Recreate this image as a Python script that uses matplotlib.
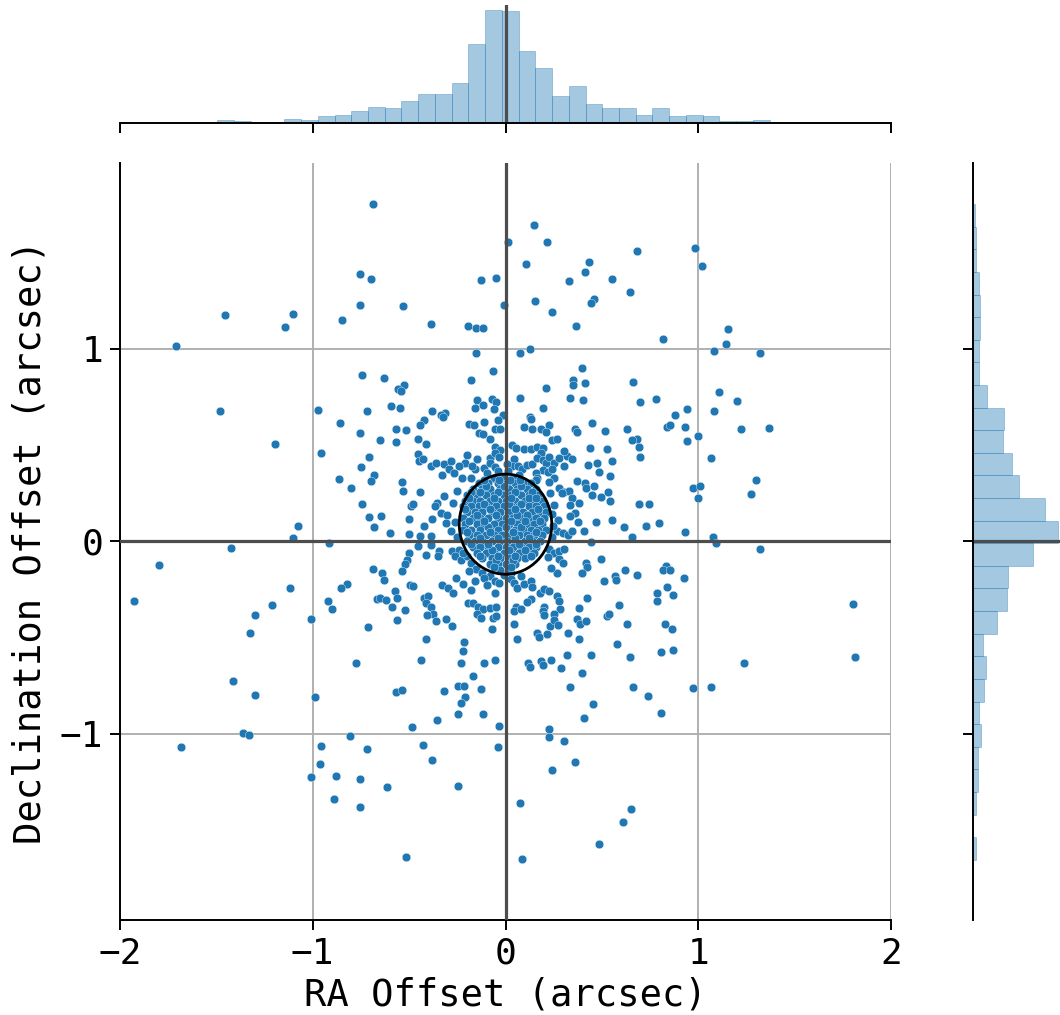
import numpy as np
import matplotlib
matplotlib.use('Agg')
import matplotlib.pyplot as plt
from matplotlib.patches import Ellipse

# Offsets (arcsec), grouped by region of the plot
pts_nw = [(-0.689, 1.751), (-0.754, 1.389), (-0.696, 1.359), (-0.754, 1.228), (-0.849, 1.150),
          (-1.102, 1.181), (-1.144, 1.114), (-1.457, 1.172), (-1.709, 1.011), (-0.744, 0.862),
          (-1.479, 0.674), (-0.974, 0.681), (-0.721, 0.674)]

pts_n = [(0.147, 1.640), (0.012, 1.555), (0.214, 1.553), (0.107, 1.437), (0.435, 1.448),
         (0.411, 1.397), (0.332, 1.349), (0.550, 1.361), (-0.125, 1.358), (-0.051, 1.366),
         (0.648, 1.294), (0.153, 1.247), (0.460, 1.255), (0.442, 1.236), (-0.532, 1.219),
         (-0.009, 1.224), (0.240, 1.188), (-0.385, 1.127), (-0.196, 1.115), (-0.155, 1.107),
         (-0.115, 1.107), (0.366, 1.119), (0.129, 0.998), (0.074, 0.975), (-0.153, 0.978),
         (0.399, 0.901), (-0.629, 0.849), (-0.065, 0.885), (0.349, 0.838), (0.351, 0.812),
         (0.415, 0.821), (0.662, 0.824), (-0.528, 0.810), (-0.559, 0.788), (-0.542, 0.781),
         (-0.177, 0.835), (0.210, 0.795), (-0.592, 0.701), (-0.547, 0.691), (-0.381, 0.674),
         (-0.312, 0.663), (-0.333, 0.653), (-0.149, 0.731), (-0.160, 0.694), (-0.115, 0.705),
         (-0.072, 0.739), (-0.047, 0.720), (-0.058, 0.687), (-0.013, 0.653), (0.074, 0.741),
         (0.128, 0.644), (0.195, 0.694), (0.333, 0.743), (0.401, 0.734)]

pts_ne = [(0.684, 1.505), (0.982, 1.524), (1.021, 1.429), (1.156, 1.103), (0.819, 1.051),
          (1.146, 1.025), (1.080, 0.985), (1.319, 0.978), (1.110, 0.773), (0.698, 0.724),
          (0.783, 0.736), (1.201, 0.727), (0.881, 0.656), (0.943, 0.686), (1.084, 0.674)]

pts_w = [(-0.858, 0.611), (-0.753, 0.564), (-1.196, 0.506), (-0.957, 0.457), (-0.706, 0.436),
         (-0.751, 0.386), (-0.682, 0.341), (-0.699, 0.313), (-0.863, 0.322), (-0.799, 0.275),
         (-0.742, 0.194), (-0.709, 0.126), (-0.682, 0.071), (-1.076, 0.081), (-1.102, 0.017),
         (-0.917, -0.010), (-1.426, -0.034), (-1.798, -0.123), (-1.929, -0.313), (-0.690, -0.144),
         (-1.118, -0.244), (-0.820, -0.225), (-0.853, -0.246), (-0.922, -0.312), (-0.901, -0.351),
         (-0.668, -0.299), (-1.213, -0.334), (-1.299, -0.386), (-1.010, -0.403), (-1.325, -0.478),
         (-0.715, -0.448), (-0.777, -0.634)]

pts_e = [(0.836, 0.594), (0.852, 0.601), (0.930, 0.592), (0.999, 0.545), (0.942, 0.521),
         (1.220, 0.584), (1.367, 0.587), (0.681, 0.528), (0.693, 0.488), (0.698, 0.438),
         (1.065, 0.431), (1.300, 0.317), (1.274, 0.246), (0.975, 0.275), (1.008, 0.286),
         (1.001, 0.222), (0.691, 0.192), (0.743, 0.194), (0.727, 0.076), (0.796, 0.092),
         (0.930, 0.047), (1.078, 0.021), (1.092, -0.008), (1.321, -0.041), (0.681, -0.178),
         (0.834, -0.131), (0.819, -0.150), (0.855, -0.150), (0.926, -0.192), (0.836, -0.237),
         (0.788, -0.272), (0.869, -0.279), (0.788, -0.312), (1.802, -0.329), (0.826, -0.431),
         (0.862, -0.457), (0.809, -0.575), (0.867, -0.564), (1.239, -0.634), (1.812, -0.601)]

pts_sw = [(-1.412, -0.724), (-1.298, -0.798), (-0.988, -0.812), (-1.360, -0.999), (-1.330, -1.008),
          (-1.683, -1.068), (-0.806, -1.011), (-0.958, -1.063), (-0.720, -1.079), (-0.964, -1.157),
          (-1.010, -1.224), (-0.879, -1.221), (-0.754, -1.236), (-0.891, -1.339), (-0.754, -1.382)]

pts_s = [(0.397, -0.684), (-0.566, -0.783), (-0.539, -0.774), (-0.319, -0.777), (-0.248, -0.753),
         (-0.213, -0.755), (-0.170, -0.701), (-0.125, -0.769), (-0.208, -0.810), (-0.229, -0.840),
         (-0.245, -0.897), (-0.115, -0.897), (-0.354, -0.930), (-0.487, -0.964), (-0.033, -0.961),
         (0.337, -0.760), (0.453, -0.845), (0.408, -0.921), (0.659, -0.758), (0.224, -0.978),
         (0.228, -1.016), (0.304, -1.039), (-0.428, -1.060), (-0.040, -1.072), (-0.379, -1.136),
         (0.361, -1.148), (0.243, -1.191), (-0.615, -1.276), (-0.245, -1.274), (0.076, -1.359),
         (0.650, -1.389), (0.612, -1.458), (0.487, -1.574), (-0.516, -1.640), (0.088, -1.650),
         (0.290, -0.660)]

pts_se = [(0.741, -0.802), (0.809, -0.894), (0.971, -0.762), (1.068, -0.758)]

pts_mid = [(-0.424, 0.629), (-0.441, 0.604), (-0.325, 0.644), (-0.566, 0.580), (-0.516, 0.575),
           (-0.649, 0.525), (-0.567, 0.516), (-0.455, 0.533), (-0.412, 0.502), (-0.189, 0.606),
           (-0.161, 0.601), (-0.109, 0.618), (-0.138, 0.559), (-0.116, 0.554), (-0.057, 0.580),
           (-0.026, 0.584), (-0.040, 0.629), (-0.078, 0.532), (0.130, 0.636), (0.095, 0.592),
           (0.138, 0.584), (0.185, 0.584), (0.225, 0.601), (0.208, 0.566), (0.239, 0.525),
           (0.268, 0.532), (0.363, 0.584), (0.372, 0.568), (0.450, 0.615), (0.516, 0.572),
           (0.632, 0.584), (0.657, 0.525), (0.036, 0.497), (0.057, 0.485), (0.095, 0.476),
           (0.133, 0.476), (0.161, 0.490), (0.194, 0.483), (0.182, 0.456), (-0.052, 0.490),
           (-0.029, 0.473),
           (-0.455, 0.450), (-0.450, 0.416), (-0.429, 0.424), (-0.386, 0.390), (-0.358, 0.407),
           (-0.320, 0.398), (-0.199, 0.445), (-0.208, 0.407), (-0.242, 0.390), (-0.282, 0.416),
           (-0.294, 0.372), (-0.329, 0.341), (-0.265, 0.355), (-0.156, 0.372), (-0.109, 0.381),
           (-0.081, 0.433), (-0.057, 0.459), (-0.033, 0.438), (-0.078, 0.404), (-0.057, 0.386),
           (-0.040, 0.364), (-0.022, 0.334), (0.043, 0.424), (0.035, 0.390), (0.064, 0.390),
           (0.088, 0.372), (0.112, 0.393), (0.140, 0.398), (0.166, 0.433), (0.192, 0.421),
           (0.211, 0.404), (0.227, 0.438), (0.251, 0.407), (0.279, 0.431), (0.303, 0.390),
           (0.320, 0.442), (0.344, 0.428), (0.306, 0.468), (0.192, 0.369), (0.220, 0.359),
           (0.242, 0.372), (0.251, 0.327), (0.225, 0.308), (0.280, 0.277), (0.303, 0.255),
           (0.332, 0.258), (0.372, 0.312), (0.427, 0.393), (0.484, 0.359), (0.476, 0.407),
           (0.555, 0.414), (0.528, 0.476), (0.438, 0.485), (0.542, 0.338), (-0.536, 0.307),
           (-0.531, 0.258), (-0.441, 0.255),
           (0.010, 0.400), (0.012, 0.364), (0.069, 0.346), (-0.095, 0.355), (-0.147, 0.424),
           (-0.173, 0.390), (-0.225, 0.329), (0.156, 0.355), (0.164, 0.329),
           (-0.320, 0.234), (-0.355, 0.196), (-0.368, 0.182), (-0.337, 0.144), (-0.303, 0.137),
           (-0.311, 0.095), (-0.282, 0.052), (-0.381, 0.113), (-0.424, 0.078), (-0.441, 0.026),
           (-0.502, 0.113), (-0.488, 0.182), (-0.479, 0.191), (-0.645, 0.130), (-0.597, 0.043),
           (-0.502, 0.035), (-0.389, 0.026), (0.294, 0.248), (0.346, 0.223), (0.334, 0.185),
           (0.381, 0.196), (0.363, 0.144), (0.375, 0.099), (0.337, 0.133), (0.273, 0.109),
           (0.268, 0.052), (0.296, 0.043), (0.324, 0.031), (0.346, 0.052), (0.407, 0.052),
           (0.467, 0.099), (0.554, 0.109), (0.614, 0.074), (0.657, 0.023), (0.441, -0.005),
           (0.247, 0.078), (0.242, 0.139), (0.410, 0.303), (0.420, 0.277), (0.458, 0.286),
           (0.450, 0.239), (0.493, 0.230), (0.531, 0.255), (0.540, 0.206),
           (-0.502, -0.064), (-0.510, -0.099), (-0.519, -0.121), (-0.536, -0.156), (-0.455, -0.023),
           (-0.389, -0.019), (-0.412, -0.071), (-0.346, -0.052), (-0.351, -0.078), (-0.277, -0.052),
           (-0.239, -0.047), (-0.260, -0.078), (-0.230, -0.099), (-0.202, -0.078), (-0.178, -0.116),
           (-0.154, -0.147), (-0.189, -0.156), (-0.640, -0.165), (-0.631, -0.203), (0.225, -0.043),
           (0.251, -0.064), (0.279, -0.052), (0.303, -0.040), (0.279, -0.095), (0.296, -0.116),
           (0.268, -0.165), (0.234, -0.139), (0.417, -0.113), (0.424, -0.133), (0.398, -0.168),
           (0.497, -0.095), (0.510, -0.208), (0.566, -0.182), (0.573, -0.203), (0.618, -0.151),
           (-0.078, -0.182), (-0.009, -0.178), (0.026, -0.165), (0.078, -0.182), (-0.121, -0.165),
           (-0.327, -0.230), (-0.299, -0.242), (-0.258, -0.194), (-0.272, -0.272), (-0.223, -0.225),
           (-0.178, -0.255), (-0.156, -0.208), (-0.109, -0.194), (-0.095, -0.229), (-0.052, -0.208),
           (-0.033, -0.220), (-0.052, -0.268), (-0.498, -0.230), (-0.479, -0.234), (-0.571, -0.260),
           (-0.562, -0.294), (-0.649, -0.294), (-0.619, -0.307), (-0.588, -0.341), (-0.519, -0.359),
           (-0.424, -0.298), (-0.403, -0.286), (-0.413, -0.320), (-0.386, -0.341), (-0.377, -0.376),
           (-0.363, -0.416), (0.026, -0.199), (0.043, -0.220), (0.061, -0.244), (0.095, -0.225),
           (0.130, -0.208), (0.140, -0.237), (0.178, -0.272), (0.199, -0.251), (0.225, -0.260),
           (0.268, -0.286), (0.279, -0.313), (0.285, -0.355), (0.251, -0.376), (0.130, -0.303),
           (0.109, -0.317), (0.052, -0.341), (0.043, -0.362), (0.078, -0.352), (-0.196, -0.320),
           (-0.170, -0.320), (-0.144, -0.341), (-0.116, -0.352), (-0.078, -0.346), (-0.048, -0.341),
           (-0.147, -0.381), (-0.126, -0.398), (-0.066, -0.398), (-0.050, -0.390), (0.199, -0.341),
           (0.192, -0.365), (0.199, -0.386), (0.381, -0.350), (0.424, -0.294), (0.528, -0.390),
           (0.538, -0.376), (0.588, -0.333), (0.372, -0.407), (0.389, -0.428), (0.419, -0.416),
           (-0.562, -0.410), (-0.407, -0.384), (-0.310, -0.403), (-0.275, -0.442), (-0.069, -0.454),
           (0.043, -0.428), (0.061, -0.507), (0.164, -0.476), (0.175, -0.497), (0.216, -0.485),
           (0.230, -0.442), (0.254, -0.410), (0.272, -0.436), (0.324, -0.476), (0.381, -0.507),
           (-0.415, -0.507), (-0.216, -0.523), (-0.220, -0.571), (-0.230, -0.632), (-0.438, -0.615),
           (-0.109, -0.632), (-0.052, -0.615), (0.116, -0.632), (0.126, -0.653), (0.182, -0.623),
           (0.195, -0.641), (0.234, -0.618), (0.320, -0.589), (0.441, -0.594), (0.580, -0.532),
           (0.644, -0.601), (0.628, -0.433),
           (-0.25, 0.26), (-0.27, 0.20), (-0.26, 0.10), (-0.25, 0.02), (-0.22, -0.06), (0.23, 0.25),
           (0.25, 0.19), (0.24, 0.02), (0.22, -0.08), (-0.18, 0.33), (0.16, 0.32)]

# points packed inside the ring around the centre
pts_core = [(-0.06, 0.33), (-0.01, 0.33), (0.04, 0.33),
            (-0.14, 0.30), (-0.09, 0.30), (-0.04, 0.30), (0.01, 0.30), (0.05, 0.30), (0.10, 0.30), (0.13, 0.30),
            (-0.17, 0.27), (-0.12, 0.27), (-0.08, 0.27), (-0.03, 0.27), (0.02, 0.27), (0.06, 0.27), (0.11, 0.27),
            (0.16, 0.27),
            (-0.20, 0.24), (-0.15, 0.24), (-0.10, 0.24), (-0.06, 0.24), (-0.01, 0.24), (0.03, 0.24), (0.08, 0.24),
            (0.12, 0.24), (0.17, 0.24),
            (-0.21, 0.21), (-0.17, 0.21), (-0.13, 0.21), (-0.08, 0.21), (-0.04, 0.21), (0.00, 0.21), (0.05, 0.21),
            (0.10, 0.21), (0.14, 0.21), (0.19, 0.21),
            (-0.22, 0.18), (-0.18, 0.18), (-0.14, 0.18), (-0.10, 0.18), (-0.05, 0.18), (-0.01, 0.18), (0.03, 0.18),
            (0.07, 0.18), (0.12, 0.18), (0.16, 0.18), (0.20, 0.18),
            (-0.20, 0.15), (-0.16, 0.15), (-0.12, 0.15), (-0.07, 0.15), (-0.03, 0.15), (0.02, 0.15), (0.06, 0.15),
            (0.09, 0.15), (0.14, 0.15), (0.18, 0.15), (0.21, 0.15),
            (-0.22, 0.12), (-0.17, 0.12), (-0.13, 0.12), (-0.09, 0.12), (-0.04, 0.12), (0.00, 0.12), (0.04, 0.12),
            (0.08, 0.12), (0.12, 0.12), (0.16, 0.12), (0.20, 0.12),
            (-0.21, 0.09), (-0.15, 0.09), (-0.11, 0.09), (-0.06, 0.09), (-0.02, 0.09), (0.02, 0.09), (0.06, 0.09),
            (0.11, 0.09), (0.15, 0.09), (0.19, 0.09),
            (-0.22, 0.06), (-0.18, 0.06), (-0.13, 0.06), (-0.08, 0.06), (-0.04, 0.06), (0.01, 0.06), (0.05, 0.06),
            (0.09, 0.06), (0.13, 0.06), (0.17, 0.06), (0.21, 0.06),
            (-0.19, 0.03), (-0.15, 0.03), (-0.10, 0.03), (-0.06, 0.03), (-0.02, 0.03), (0.03, 0.03), (0.07, 0.03),
            (0.11, 0.03), (0.15, 0.03), (0.19, 0.03),
            (-0.20, 0.00), (-0.16, 0.00), (-0.12, 0.00), (-0.07, 0.00), (-0.03, 0.00), (0.01, 0.00), (0.05, 0.00),
            (0.10, 0.00), (0.14, 0.00), (0.18, 0.00),
            (-0.17, -0.03), (-0.13, -0.03), (-0.09, -0.03), (-0.04, -0.03), (0.00, -0.03), (0.04, -0.03),
            (0.08, -0.03), (0.12, -0.03), (0.16, -0.03),
            (-0.15, -0.06), (-0.10, -0.06), (-0.06, -0.06), (-0.01, -0.06), (0.03, -0.06), (0.07, -0.06),
            (0.11, -0.06), (0.15, -0.06),
            (-0.12, -0.09), (-0.07, -0.09), (-0.03, -0.09), (0.02, -0.09), (0.06, -0.09), (0.10, -0.09),
            (-0.08, -0.12), (-0.04, -0.12), (0.00, -0.12), (0.05, -0.12),
            (-0.03, -0.15), (0.02, -0.15),
            (-0.10, 0.285), (-0.01, 0.285), (0.08, 0.285), (-0.11, 0.195), (0.02, 0.195), (0.08, 0.195),
            (-0.15, 0.135), (-0.05, 0.135), (0.06, 0.135), (0.11, 0.135), (-0.09, 0.075), (0.00, 0.075),
            (0.08, 0.075), (-0.13, 0.015), (-0.04, 0.015), (0.05, 0.015), (0.12, 0.015), (-0.07, -0.045),
            (0.02, -0.045), (0.10, -0.045), (-0.05, -0.10), (0.04, -0.10),
            (-0.11, 0.315), (-0.035, 0.315), (0.025, 0.315), (0.075, 0.315),
            (-0.18, 0.255), (-0.13, 0.255), (-0.04, 0.255), (0.05, 0.255), (0.14, 0.255),
            (-0.19, 0.225), (-0.06, 0.225), (0.03, 0.225), (0.12, 0.225), (0.16, 0.225),
            (-0.21, 0.165), (-0.08, 0.165), (0.05, 0.165), (0.17, 0.165),
            (-0.19, 0.105), (-0.11, 0.105), (0.03, 0.105), (0.10, 0.105), (0.18, 0.105),
            (-0.20, 0.045), (-0.08, 0.045), (0.04, 0.045), (0.16, 0.045),
            (-0.18, -0.015), (-0.09, -0.015), (0.07, -0.015), (0.16, -0.015),
            (-0.13, -0.075), (-0.04, -0.075), (0.05, -0.075), (0.13, -0.075),
            (-0.06, -0.135), (0.03, -0.135)]

# marginal histogram counts
ra_bin_range = (-1.755, 1.804)
ra_counts = [1, 0, 0, 3, 2, 1, 1, 4, 3, 6, 7, 11, 14, 13, 20, 26, 26, 36, 71, 101, 100,
             64, 49, 24, 33, 17, 13, 13, 7, 13, 6, 7, 6, 2, 2, 3, 0, 0, 0, 0, 1]
dec_bin_range = (-1.655, 1.750)
# listed from the top bin downwards
dec_counts_top_down = [2, 3, 3, 7, 8, 8, 7, 7, 17, 38, 37, 48, 57, 90, 106, 75, 43, 42, 30,
                       12, 16, 13, 7, 10, 6, 6, 3, 0, 3]

# ring drawn around the core
ring_center = (0.0, 0.088)
ring_size = (0.48, 0.52)

blue = '#1f77b4'
dark = '#4d4d4d'
plt.rcParams['font.family'] = ['DejaVu Sans Mono']

all_pts = np.array(pts_nw + pts_n + pts_ne + pts_w + pts_e + pts_sw + pts_s + pts_se
                   + pts_mid + pts_core)

W, H = 1060, 1015
fig = plt.figure(figsize=(W / 100, H / 100), dpi=100)
ax = fig.add_axes([120 / W, 95 / H, 771 / W, 757 / H])
ax_top = fig.add_axes([120 / W, 892 / H, 771 / W, 118.5 / H], sharex=ax)
ax_right = fig.add_axes([973.3 / W, 95 / H, 89 / W, 757 / H], sharey=ax)

# main scatter
ax.scatter(all_pts[:, 0], all_pts[:, 1], s=38, color=blue, edgecolor='white',
           linewidth=0.25, zorder=2)
ax.axvline(0, color=dark, lw=2.3, zorder=3)
ax.axhline(0, color=dark, lw=2.3, zorder=3)
ax.add_patch(Ellipse(ring_center, ring_size[0], ring_size[1], fill=False,
                     edgecolor='black', lw=2.0, zorder=4))
ax.set_xlim(-2, 2)
ax.set_ylim(-1.968, 1.964)
ax.set_xticks([-2, -1, 0, 1, 2])
ax.set_yticks([-1, 0, 1])
ax.grid(True, color='#b0b0b0', lw=1.4)
ax.set_axisbelow(True)
for side in ['top', 'right']:
    ax.spines[side].set_visible(False)
for side in ['left', 'bottom']:
    ax.spines[side].set_linewidth(1.4)
ax.tick_params(labelsize=26, length=7, width=1.4, pad=5)
ax.set_xlabel('RA Offset (arcsec)', fontsize=26.7, labelpad=4)
ax.set_ylabel('Declination Offset (arcsec)', fontsize=26.7, labelpad=8)

# top marginal histogram
ra_edges = np.linspace(ra_bin_range[0], ra_bin_range[1], len(ra_counts) + 1)
ax_top.bar(ra_edges[:-1], ra_counts, width=np.diff(ra_edges), align='edge',
           color=blue, alpha=0.4, edgecolor=blue, linewidth=0.6)
ax_top.axvline(0, color=dark, lw=2.3)
ax_top.set_ylim(0, max(ra_counts) * 1.05)
ax_top.tick_params(labelbottom=False, left=False, labelleft=False, length=7, width=1.4)
for side in ['top', 'right', 'left']:
    ax_top.spines[side].set_visible(False)
ax_top.spines['bottom'].set_linewidth(1.4)

# right marginal histogram
dec_counts = dec_counts_top_down[::-1]
dec_edges = np.linspace(dec_bin_range[0], dec_bin_range[1], len(dec_counts) + 1)
ax_right.barh(dec_edges[:-1], dec_counts, height=np.diff(dec_edges), align='edge',
              color=blue, alpha=0.4, edgecolor=blue, linewidth=0.6)
ax_right.axhline(0, color=dark, lw=2.3)
ax_right.set_xlim(0, max(dec_counts) * 1.05)
ax_right.tick_params(labelleft=False, bottom=False, labelbottom=False, length=7, width=1.4)
for side in ['top', 'right', 'bottom']:
    ax_right.spines[side].set_visible(False)
ax_right.spines['left'].set_linewidth(1.4)

fig.savefig('out.png', dpi=100)
